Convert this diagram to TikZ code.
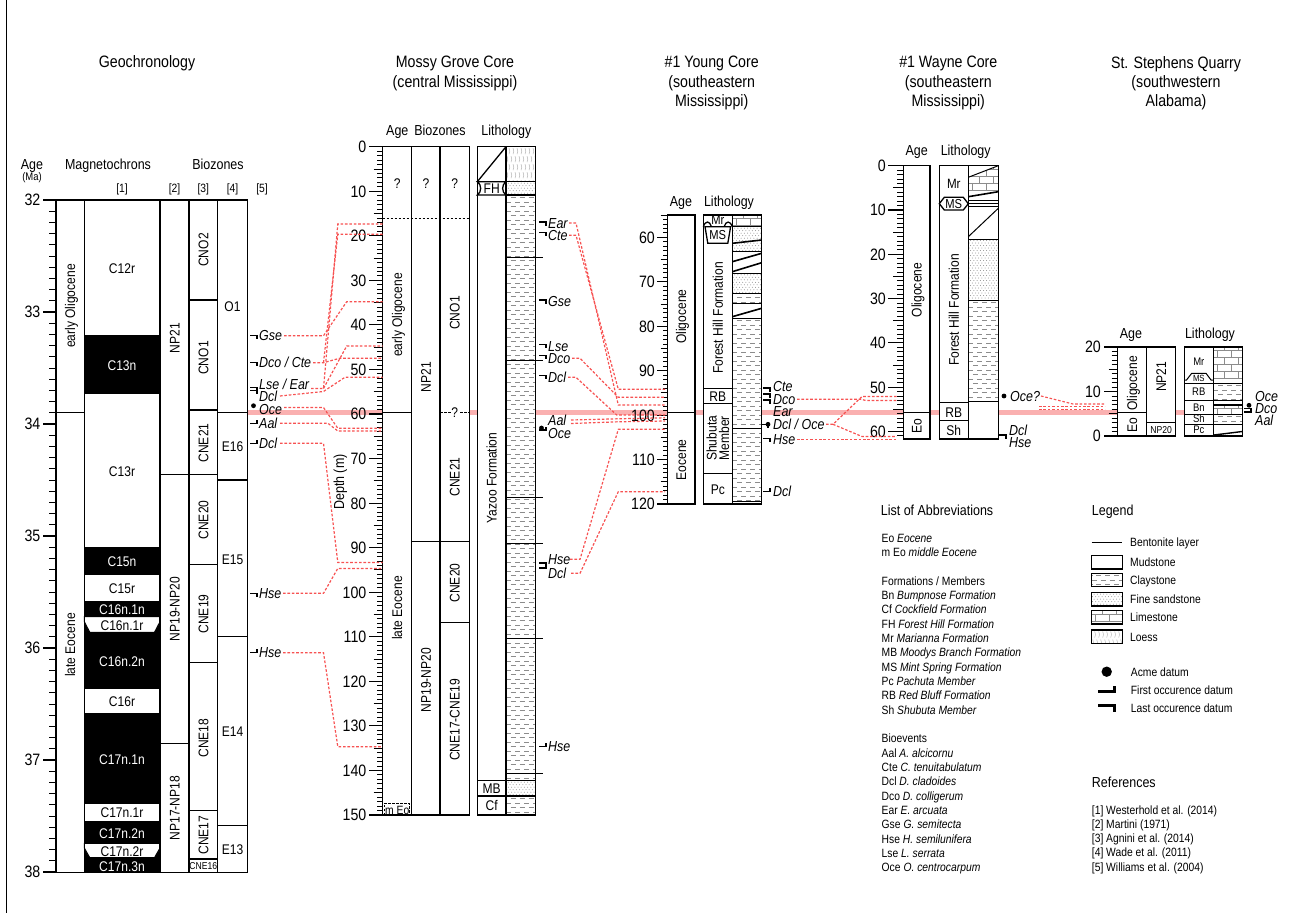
\documentclass[tikz,border=0pt]{standalone}
\usepackage{fontspec}
\setmainfont{Liberation Sans}[FakeStretch=0.86]
\definecolor{redl}{RGB}{247,82,82}
\definecolor{pinkb}{RGB}{250,176,176}
\definecolor{patg}{RGB}{140,140,140}
\definecolor{loeg}{RGB}{175,175,175}
\tikzset{
  ln/.style={line width=1.3pt},
  col/.style={draw=black, line width=1.3pt, fill=white},
  tk/.style={line width=1.1pt},
  tkm/.style={line width=0.9pt},
  rl/.style={draw=redl, line width=1.2pt, dash pattern=on 2.6pt off 1.8pt},
  mk/.style={line width=1.2pt},
  claydash/.style={draw=patg, line width=0.6pt, dash pattern=on 5pt off 4pt},
  limeln/.style={draw=patg, line width=0.6pt},
  loessln/.style={draw=loeg, line width=0.45pt},
  ttl/.style={font=\fontsize{16.5}{19}\selectfont, inner sep=0pt, text height=11.8pt, text depth=0pt},
  hdr/.style={font=\fontsize{14.5}{17}\selectfont, inner sep=0pt, text height=10.4pt, text depth=0pt},
  num/.style={font=\fontsize{16.5}{19}\selectfont, inner sep=0pt, text height=11.8pt, text depth=0pt, anchor=east},
  lab/.style={font=\fontsize{14}{16}\selectfont, inner sep=0pt, text height=10pt, text depth=0pt},
  slab/.style={font=\fontsize{12}{14}\selectfont, inner sep=0pt, text height=8.6pt, text depth=0pt},
  tlab/.style={font=\fontsize{10}{12}\selectfont, inner sep=0pt, text height=7.2pt, text depth=0pt},
  wlab/.style={lab, text=white},
  vlab/.style={lab, rotate=90},
  bio/.style={font=\fontsize{14.5}{17}\selectfont\itshape, inner sep=0pt, text height=10.4pt, text depth=0pt, anchor=west},
  sm/.style={font=\fontsize{12}{14}\selectfont, inner sep=0pt, text height=8.6pt, text depth=0pt, anchor=west},
}
\newcommand\LOm[2]{\draw[mk] (#1,#2) -- ++(7,0) -- ++(0,3.5);}
\newcommand\FOm[2]{\draw[mk] (#1,#2) -- ++(7,0) -- ++(0,-3.5);}
\newcommand\ACm[2]{\fill (#1,#2) circle[radius=2.4];}
\newcommand\clayfill[4]{%
  \begin{scope}
    \clip (#1,#2) rectangle (#3,#4);
    \pgfmathsetmacro\cya{#2+2.3}%
    \pgfmathsetmacro\cyb{#2+6.8}%
    \foreach \yy [count=\ci] in {\cya,\cyb,...,#4}{%
      \pgfmathsetmacro\ph{mod(\ci,2)*4.5}%
      \draw[claydash, dash phase=\ph pt] (#1,\yy) -- (#3,\yy);
    }%
  \end{scope}}
\newcommand\sandfill[4]{%
  \begin{scope}
    \clip (#1,#2) rectangle (#3,#4);
    \pgfmathsetmacro\sya{#2+1.5}%
    \pgfmathsetmacro\syb{#2+4.0}%
    \foreach \yy [count=\si] in {\sya,\syb,...,#4}{%
      \pgfmathsetmacro\sxa{#1+0.8+mod(\si,2)*1.6}%
      \pgfmathsetmacro\sxb{\sxa+3.2}%
      \foreach \xx in {\sxa,\sxb,...,#3}{\fill[patg] (\xx,\yy) circle[radius=0.5];}
    }%
  \end{scope}}
\newcommand\limefill[4]{%
  \begin{scope}
    \clip (#1,#2) rectangle (#3,#4);
    \pgfmathsetmacro\lya{#2+3.5}%
    \pgfmathsetmacro\lyb{#2+10.5}%
    \foreach \yy [count=\li] in {\lya,\lyb,...,#4}{%
      \draw[limeln] (#1,\yy) -- (#3,\yy);
      \pgfmathsetmacro\lxa{#1+4+mod(\li,2)*7}%
      \pgfmathsetmacro\lxb{\lxa+14}%
      \foreach \xx in {\lxa,\lxb,...,#3}{\draw[limeln] (\xx,\yy) -- (\xx,\yy-7);}
    }%
  \end{scope}}
\newcommand\loessfill[4]{%
  \begin{scope}
    \clip (#1,#2) rectangle (#3,#4);
    \pgfmathsetmacro\qya{#2+1.5}%
    \pgfmathsetmacro\qyb{#2+9.5}%
    \foreach \yy [count=\qi] in {\qya,\qyb,...,#4}{%
      \pgfmathsetmacro\qxa{#1+1+mod(\qi,2)*2}%
      \pgfmathsetmacro\qxb{\qxa+4}%
      \foreach \xx in {\qxa,\qxb,...,#3}{\draw[loessln] (\xx,\yy) -- (\xx+0.8,\yy+3) -- (\xx,\yy+6);}
    }%
  \end{scope}}
\begin{document}
\begin{tikzpicture}[x=1pt,y=-1pt]
\useasboundingbox (0,0) rectangle (1290,913);
\draw[line width=1pt] (6.5,0) -- (6.5,913);
% Eocene-Oligocene boundary
\draw[pinkb, line width=4.2pt] (247.3,412.5) -- (1184,412.5);

%================ GEOCHRONOLOGY ================
\node[ttl] (tG) at (147,62) {Geochronology};
\node[hdr] (hAge) at (32,164) {Age};
\node[tlab, font=\fontsize{11}{13}\selectfont] (hMa) at (32,177) {(Ma)};
\node[hdr] (hMag) at (108,164) {Magnetochrons};
\node[hdr] (hBio) at (218,164) {Biozones};
\node[slab] (r1) at (122,188) {[1]};
\node[slab] (r2) at (174.5,188) {[2]};
\node[slab] (r3) at (203.3,188) {[3]};
\node[slab] (r4) at (232.5,188) {[4]};
\node[slab] (r5) at (262,188) {[5]};
% ticks
\foreach \i in {0,...,60}{\pgfmathsetmacro\yy{200+\i*11.2}\draw[tkm] (49,\yy) -- (56,\yy);}
\foreach \a [count=\k from 0] in {32,...,38}{\pgfmathsetmacro\yy{200+\k*112}\draw[tk] (43,\yy) -- (56,\yy); \node[num] (ga\a) at (40.5,\yy) {\a};}
% columns
\draw[col] (56,200) rectangle (84.3,872.7);
\draw[col] (84.3,200) rectangle (160,872.7);
\draw[col] (160,200) rectangle (189,872.7);
\draw[col] (189,200) rectangle (217.7,872.7);
\draw[col] (217.7,200) rectangle (247.3,872.7);
\draw[ln] (56,412.8) -- (84.3,412.8);
\node[vlab] (eo1) at (70,306) {early Oligocene};
\node[vlab] (eo2) at (70,645) {late Eocene};
% magnetochrons
\draw[fill=black, line width=1pt] (84.3,335.7) rectangle (160,393.3);
\draw[fill=black, line width=1pt] (84.3,547.3) rectangle (160,574.3);
\draw[fill=black, line width=1pt] (84.3,601) rectangle (160,688.3);
\draw[fill=black, line width=1pt] (84.3,713.3) rectangle (160,803.3);
\draw[fill=black, line width=1pt] (84.3,821) rectangle (160,872.7);
\draw[col, line width=1pt] (84.3,616.7) -- (160,616.7) -- (160,621.7) -- (154.5,632.3) -- (89.8,632.3) -- (84.3,621.7) -- cycle;
\draw[col, line width=1pt] (84.3,843.3) -- (160,843.3) -- (160,848) -- (154.5,857.7) -- (89.8,857.7) -- (84.3,848) -- cycle;
\draw[ln] (84.3,200) rectangle (160,872.7);
\node[lab] (m1) at (122,268) {C12r};
\node[wlab] (m2) at (122,365) {C13n};
\node[lab] (m3) at (122,471) {C13r};
\node[wlab] (m4) at (122,561) {C15n};
\node[lab] (m5) at (122,588) {C15r};
\node[wlab] (m6) at (122,609) {C16n.1n};
\node[lab] (m7) at (122,625) {C16n.1r};
\node[wlab] (m8) at (122,661) {C16n.2n};
\node[lab] (m9) at (122,701) {C16r};
\node[wlab] (m10) at (122,759) {C17n.1n};
\node[lab] (m11) at (122,812.5) {C17n.1r};
\node[wlab] (m12) at (122,833) {C17n.2n};
\node[lab] (m13) at (122,851.5) {C17n.2r};
\node[wlab] (m14) at (122,866) {C17n.3n};
% [2]
\draw[ln] (160,474.3) -- (189,474.3);
\draw[ln] (160,743.3) -- (189,743.3);
\node[vlab] (np1) at (174.5,338) {NP21};
\node[vlab] (np2) at (174.5,609) {NP19-NP20};
\node[vlab] (np3) at (174.5,808) {NP17-NP18};
% [3]
\foreach \yy in {300,410,474.3,564.3,662.7,810.7,859}{\draw[ln] (189,\yy) -- (217.7,\yy);}
\node[vlab] (cn1) at (203.3,250) {CNO2};
\node[vlab] (cn2) at (203.3,358) {CNO1};
\node[vlab] (cn3) at (203.3,443) {CNE21};
\node[vlab] (cn4) at (203.3,520) {CNE20};
\node[vlab] (cn5) at (203.3,614) {CNE19};
\node[vlab] (cn6) at (203.3,738) {CNE18};
\node[vlab] (cn7) at (203.3,835) {CNE17};
\node[tlab] (cn8) at (203.3,866) {CNE16};
% [4]
\foreach \yy in {412.7,480,636.7,825.7}{\draw[ln] (217.7,\yy) -- (247.3,\yy);}
\node[lab] (w1) at (232.5,306.7) {O1};
\node[lab] (w2) at (232.5,446.7) {E16};
\node[lab] (w3) at (232.5,559.3) {E15};
\node[lab] (w4) at (232.5,731.7) {E14};
\node[lab] (w5) at (232.5,849.3) {E13};
% [5] bioevents
\LOm{250}{335.7} \node[bio] (g1) at (259,335.7) {Gse};
\LOm{250}{362.7} \node[bio] (g2) at (259,362.7) {Dco / Cte};
\LOm{250}{387.3} \node[bio] (g3) at (259,384.2) {Lse / Ear};
\LOm{250}{390.8} \node[bio] (g4) at (259,396.3) {Dcl};
\ACm{253.5}{405.7} \node[bio] (g5) at (259,409.5) {Oce};
\FOm{250}{423.3} \node[bio] (g6) at (259,423.3) {Aal};
\FOm{250}{443.3} \node[bio] (g7) at (259,443.3) {Dcl};
\LOm{250}{593.3} \node[bio] (g8) at (259,593.3) {Hse};
\FOm{250}{652.7} \node[bio] (g9) at (259,652.7) {Hse};

%================ MOSSY GROVE ================
\node[ttl] (tM1) at (455,61.7) {Mossy Grove Core};
\node[ttl] (tM2) at (455,81.7) {(central Mississippi)};
\node[hdr] (hMa1) at (397.3,130.7) {Age};
\node[hdr] (hMb1) at (440,130.7) {Biozones};
\node[hdr] (hMl1) at (506.3,130.7) {Lithology};
\node[hdr, rotate=90] (dep) at (339,482) {Depth (m)};
\foreach \d in {0,...,150}{%
  \pgfmathsetmacro\yy{146.7+4.455*\d}%
  \pgfmathtruncatemacro\mt{mod(\d,10)}%
  \pgfmathtruncatemacro\mf{mod(\d,5)}%
  \ifnum\mt=0 \def\xl{369}\else\ifnum\mf=0 \def\xl{373.5}\else\def\xl{377}\fi\fi
  \draw[tkm] (\xl,\yy) -- (382.7,\yy);}
\foreach \d in {0,10,...,150}{\pgfmathsetmacro\yy{146.7+4.455*\d}\draw[tk] (369,\yy) -- (382.7,\yy); \node[num] (mgn\d) at (366.5,\yy) {\d};}
\draw[col] (382.7,146.7) rectangle (411.7,815);
\draw[col] (411.7,146.7) rectangle (440,815);
\draw[col] (440,146.7) rectangle (469.3,815);
\draw[col] (477.3,146.7) rectangle (506,815);
\draw[col] (506,146.7) rectangle (535.7,815);
% age
\draw[line width=1pt, dash pattern=on 2.5pt off 1.5pt] (382.7,218.3) -- (469.3,218.3);
\draw[ln] (382.7,412.3) -- (411.7,412.3);
\node[lab] (q1) at (397.2,183.3) {?};
\node[lab] (q2) at (425.9,183.3) {?};
\node[lab] (q3) at (454.7,183.3) {?};
\node[vlab] (mga1) at (397.2,315) {early Oligocene};
\node[vlab] (mga2) at (397.2,608) {late Eocene};
\draw[line width=1pt, dash pattern=on 2.5pt off 1.5pt] (384,815) -- (384,803.3) -- (409.5,803.3) -- (409.5,815);
\node[slab] (meo) at (397.2,810) {m Eo};
% biozones
\draw[ln] (411.7,541.7) -- (469.3,541.7);
\draw[ln] (440,622.3) -- (469.3,622.3);
\draw[line width=1pt, dash pattern=on 2.5pt off 1.5pt] (440,412.3) -- (469.3,412.3);
\node[lab, fill=white, inner sep=0.6pt] (q4) at (454.7,412.3) {?};
\node[vlab] (mgn1) at (425.9,377) {NP21};
\node[vlab] (mgn2) at (425.9,680) {NP19-NP20};
\node[vlab] (mgc1) at (454.7,313) {CNO1};
\node[vlab] (mgc2) at (454.7,477) {CNE21};
\node[vlab] (mgc3) at (454.7,583) {CNE20};
\node[vlab] (mgc4) at (454.7,720) {CNE17-CNE19};
% lithology formations
\draw[ln] (477.3,181.7) -- (506,146.7);
\draw[ln, fill=white] (477.3,181.7) -- (506,181.7) .. controls (501.5,184.5) and (501.5,192.2) .. (506,195) -- (477.3,195) .. controls (481.8,192.2) and (481.8,184.5) .. (477.3,181.7) -- cycle;
\node[lab] (fh) at (491.7,188.4) {FH};
\draw[ln] (477.3,780.7) -- (506,780.7);
\draw[ln] (477.3,796) -- (506,796);
\node[vlab] (yaz) at (491.7,478) {Yazoo Formation};
\node[lab] (mb) at (491.7,788.4) {MB};
\node[lab] (cf) at (491.7,805.5) {Cf};
% lithology pattern
\loessfill{506}{146.7}{535.7}{181.7}
\sandfill{506}{181.7}{535.7}{195}
\clayfill{506}{195}{535.7}{780.7}
\sandfill{506}{780.7}{535.7}{796}
\clayfill{506}{796}{535.7}{815}
\foreach \yy in {181.7,195,780.7,796}{\draw[ln] (506,\yy) -- (535.7,\yy);}
\foreach \yy in {257.3,360.7,497.7,543.3,638.3,773.3}{\draw[ln] (506,\yy) -- (542.7,\yy);}
\draw[ln] (506,146.7) rectangle (535.7,815);
% bioevents
\LOm{539}{222} \node[bio] (mb1) at (548,223) {Ear};
\LOm{539}{232.8} \node[bio] (mb2) at (548,235.2) {Cte};
\LOm{539}{300} \node[bio] (mb3) at (548,301.7) {Gse};
\LOm{539}{344.5} \node[bio] (mb4) at (548,346) {Lse};
\LOm{539}{355.5} \node[bio] (mb5) at (548,358.3) {Dco};
\LOm{539}{375.5} \node[bio] (mb6) at (548,377.3) {Dcl};
\ACm{541.5}{428} \FOm{539}{430} \node[bio] (mb7) at (548,420) {Aal}; \node[bio] (mb8) at (548,433.3) {Oce};
\LOm{539}{563} \FOm{539}{568} \node[bio] (mb9) at (548,559.3) {Hse}; \node[bio] (mb10) at (548,573.3) {Dcl};
\FOm{539}{746.7} \node[bio] (mb11) at (548,746.7) {Hse};

%================ YOUNG ================
\node[ttl] (tY1) at (711.7,62) {\#1 Young Core};
\node[ttl] (tY2) at (711.7,81.7) {(southeastern};
\node[ttl] (tY3) at (711.7,100.5) {Mississippi)};
\node[hdr] (hYa) at (681,201.7) {Age};
\node[hdr] (hYl) at (729,201.7) {Lithology};
\foreach \d in {55,...,120}{%
  \pgfmathsetmacro\yy{237.3+4.445*(\d-60)}%
  \pgfmathtruncatemacro\mt{mod(\d,10)}%
  \pgfmathtruncatemacro\mf{mod(\d,5)}%
  \ifnum\mt=0 \def\xl{657}\else\ifnum\mf=0 \def\xl{660.5}\else\def\xl{663}\fi\fi
  \draw[tkm] (\xl,\yy) -- (667.3,\yy);}
\foreach \d in {60,70,...,120}{\pgfmathsetmacro\yy{237.3+4.445*(\d-60)}\draw[tk] (657,\yy) -- (667.3,\yy); \node[num] (yn\d) at (655,\yy) {\d};}
\draw[col] (667.3,215) rectangle (695,504);
\draw[col] (703.3,215) rectangle (732.3,504);
\draw[col] (732.3,215) rectangle (761.7,504);
\draw[ln] (667.3,412.7) -- (695,412.7);
\node[vlab] (ya1) at (681,316.7) {Oligocene};
\node[vlab] (ya2) at (681,460) {Eocene};
% formations
\draw[ln] (703.3,226.7) .. controls (705.5,220.5) and (709.5,220.5) .. (711.5,226.7) -- (724.1,226.7) .. controls (726.1,220.5) and (730.1,220.5) .. (732.3,226.7);
\draw[ln, fill=white] (705,226.7) -- (730.6,226.7) -- (727.8,243.3) -- (707.8,243.3) -- cycle;
\node[slab, font=\fontsize{13}{15}\selectfont] (ymr) at (717.8,220.3) {Mr};
\node[slab, font=\fontsize{13}{15}\selectfont] (yms) at (717.8,235.3) {MS};
\node[vlab] (yfh) at (717.8,318) {Forest Hill Formation};
\draw[ln] (703.3,388.3) -- (732.3,388.3);
\draw[ln] (703.3,403.3) -- (732.3,403.3);
\draw[ln] (703.3,473.3) -- (732.3,473.3);
\node[lab] (yrb) at (717.8,396) {RB};
\node[rotate=90, align=center, inner sep=0pt, font=\fontsize{14}{12.5}\selectfont] (ysh) at (717.8,438.3) {Shubuta\\Member};
\node[lab] (ypc) at (717.8,489) {Pc};
% pattern
\limefill{732.3}{215}{761.7}{226.7}
\sandfill{732.3}{226.7}{761.7}{251.7}
\sandfill{732.3}{273.3}{761.7}{293.3}
\clayfill{732.3}{295}{761.7}{303.3}
\clayfill{732.3}{318.3}{761.7}{501.7}
\foreach \yy in {226.7,251.7,273.3,293.3,303.3,318.3,501.7}{\draw[line width=1pt] (732.3,\yy) -- (761.7,\yy);}
\draw[line width=1.6pt] (732.3,428.3) -- (761.7,428.3);
\draw[line width=1.6pt] (732.3,243.3) -- (761.7,240);
\draw[line width=1.6pt] (732.3,261.7) -- (761.7,253.3);
\draw[line width=1.6pt] (732.3,271.7) -- (761.7,262.7);
\draw[line width=1.6pt] (732.3,316.7) -- (761.7,308.3);
\draw[ln] (732.3,215) rectangle (761.7,504);
% bioevents
\LOm{763}{388} \LOm{763}{394} \LOm{763}{400}
\node[bio] (yb1) at (773,386.5) {Cte};
\node[bio] (yb2) at (773,399) {Dco};
\node[bio] (yb3) at (773,411.5) {Ear};
\LOm{761}{424.3} \ACm{768}{424.3} \node[bio] (yb4) at (773,424.3) {Dcl / Oce};
\LOm{763}{438.3} \node[bio] (yb5) at (773,439.5) {Hse};
\FOm{763}{491.7} \node[bio] (yb6) at (773,491.7) {Dcl};

%================ WAYNE ================
\node[ttl] (tW1) at (948.3,61.7) {\#1 Wayne Core};
\node[ttl] (tW2) at (948.3,81.7) {(southeastern};
\node[ttl] (tW3) at (948.3,100.5) {Mississippi)};
\node[hdr] (hWa) at (916.7,150.7) {Age};
\node[hdr] (hWl) at (965.7,150.7) {Lithology};
\foreach \d in {0,...,61}{%
  \pgfmathsetmacro\yy{165.7+4.43*\d}%
  \pgfmathtruncatemacro\mt{mod(\d,10)}%
  \pgfmathtruncatemacro\mf{mod(\d,5)}%
  \ifnum\mt=0 \def\xl{888}\else\ifnum\mf=0 \def\xl{893}\else\def\xl{897}\fi\fi
  \draw[tkm] (\xl,\yy) -- (903.3,\yy);}
\foreach \d in {0,10,...,60}{\pgfmathsetmacro\yy{165.7+4.43*\d}\draw[tk] (888,\yy) -- (903.3,\yy); \node[num] (wn\d) at (886,\yy) {\d};}
\draw[col] (903.3,165.7) rectangle (930,439);
\draw[col] (939.3,165.7) rectangle (968.3,439);
\draw[col] (968.3,165.7) rectangle (998.3,439);
\draw[ln] (903.3,412.5) -- (930,412.5);
\node[vlab] (wa1) at (916.7,290) {Oligocene};
\node[vlab] (wa2) at (916.7,426) {Eo};
% formations
\node[lab, font=\fontsize{13.5}{15}\selectfont] (wmr) at (953.8,183.3) {Mr};
\draw[ln, fill=white] (944.3,197.3) -- (963.3,197.3) -- (968.3,203.7) -- (963.3,210) -- (944.3,210) -- (939.3,203.7) -- cycle;
\node[slab, font=\fontsize{13}{15}\selectfont] (wms) at (953.8,203.7) {MS};
\node[vlab] (wfh) at (953.8,310) {Forest Hill Formation};
\draw[ln] (939.3,402.7) -- (968.3,402.7);
\draw[ln] (939.3,420.7) -- (968.3,420.7);
\node[lab] (wrb) at (953.8,412) {RB};
\node[lab] (wsh) at (953.8,430) {Sh};
% pattern
\begin{scope}
  \clip (968.3,177.3) -- (998.3,165.7) -- (998.3,191.7) -- (968.3,196.7) -- cycle;
  \limefill{968.3}{165.7}{998.3}{196.7}
\end{scope}
\sandfill{968.3}{239}{998.3}{300}
\clayfill{968.3}{300}{998.3}{401.7}
\draw[line width=1pt] (968.3,177.3) -- (998.3,165.7);
\draw[line width=1.6pt] (968.3,196.7) -- (998.3,191.7);
\foreach \yy in {200,203.3,206.7}{\draw[line width=0.9pt] (968.3,\yy) -- (998.3,\yy);}
\draw[line width=1pt] (968.3,236.7) -- (998.3,208.3);
\foreach \yy in {239,300,401.7}{\draw[line width=1pt] (968.3,\yy) -- (998.3,\yy);}
\draw[ln] (968.3,165.7) rectangle (998.3,439);
% bioevents
\ACm{1004}{396} \node[bio] (wb1) at (1010,396) {Oce?};
\LOm{999}{435} \node[bio] (wb2) at (1009,430) {Dcl}; \node[bio] (wb3) at (1009,442.5) {Hse};

%================ ST. STEPHENS ================
\node[ttl] (tS1) at (1176,62.7) {St. Stephens Quarry};
\node[ttl] (tS2) at (1176,81.7) {(southwestern};
\node[ttl] (tS3) at (1176,100.5) {Alabama)};
\node[hdr] (hSa) at (1131,333.3) {Age};
\node[hdr] (hSl) at (1210,333.3) {Lithology};
\foreach \d in {0,...,20}{%
  \pgfmathsetmacro\yy{436-4.45*\d}%
  \pgfmathtruncatemacro\mt{mod(\d,10)}%
  \pgfmathtruncatemacro\mf{mod(\d,5)}%
  \ifnum\mt=0 \def\xl{1104}\else\ifnum\mf=0 \def\xl{1108.5}\else\def\xl{1111.5}\fi\fi
  \draw[tkm] (\xl,\yy) -- (1117.7,\yy);}
\foreach \d in {0,10,20}{\pgfmathsetmacro\yy{436-4.45*\d}\draw[tk] (1104,\yy) -- (1117.7,\yy); \node[num] (sn\d) at (1101,\yy) {\d};}
\draw[col] (1117.7,347) rectangle (1146.7,436);
\draw[col] (1146.7,347) rectangle (1175.7,436);
\draw[col] (1184.3,347) rectangle (1213.3,436);
\draw[col] (1213.3,347) rectangle (1242.3,436);
\draw[ln] (1117.7,412.7) -- (1146.7,412.7);
\draw[ln] (1146.7,422.7) -- (1175.7,422.7);
\node[vlab] (sa1) at (1132.2,383.3) {Oligocene};
\node[vlab] (sa2) at (1132.2,425) {Eo};
\node[vlab] (snp1) at (1161.2,376.7) {NP21};
\node[tlab] (snp2) at (1161.2,429.6) {NP20};
% formations
\draw[line width=1pt] (1184.3,380) -- (1186.5,380) -- (1191.7,373.3) -- (1206,373.3) -- (1211,380) -- (1213.3,380);
\foreach \yy in {383.3,400.7,414,424.3}{\draw[line width=1pt] (1184.3,\yy) -- (1213.3,\yy);}
\node[tlab, font=\fontsize{11}{13}\selectfont] (smr) at (1198.8,361.7) {Mr};
\node[tlab, font=\fontsize{9}{11}\selectfont, text height=6.5pt] (sms) at (1198.8,378.2) {MS};
\node[tlab, font=\fontsize{11}{13}\selectfont] (srb) at (1198.8,392) {RB};
\node[tlab, font=\fontsize{11}{13}\selectfont] (sbn) at (1198.8,407.4) {Bn};
\node[tlab, font=\fontsize{11}{13}\selectfont] (ssh) at (1198.8,419.2) {Sh};
\node[tlab, font=\fontsize{11}{13}\selectfont] (spc) at (1198.8,430.2) {Pc};
% pattern
\limefill{1213.3}{347}{1242.3}{383.3}
\clayfill{1213.3}{383.3}{1242.3}{400.7}
\limefill{1213.3}{405}{1242.3}{414}
\clayfill{1213.3}{414}{1242.3}{424.3}
\foreach \yy in {383.3,400.7,414,424.3}{\draw[line width=1pt] (1213.3,\yy) -- (1242.3,\yy);}
\draw[line width=1.6pt] (1213.3,405) -- (1242.3,405);
\draw[line width=1.4pt] (1214,435) -- (1242.3,431.5);
\draw[ln] (1213.3,347) rectangle (1242.3,436);
% bioevents
\ACm{1249}{405.3} \LOm{1244}{408.5} \FOm{1244}{412}
\node[bio] (sb1) at (1255,396) {Oce};
\node[bio] (sb2) at (1255,408.3) {Dco};
\node[bio] (sb3) at (1255,420.7) {Aal};

%================ CORRELATION LINES ================
% Geochronology -> Mossy Grove
\draw[rl] (284,335.7) -- (323.5,335.7) -- (346.7,301.7) -- (382.7,301.7);
\draw[rl] (313,362.7) -- (323.5,362.7) -- (339.5,358.3) -- (382.7,358.3);
\draw[rl] (323.5,362.7) -- (337.8,234.3) -- (382.7,234.3);
\draw[rl] (311,388.5) -- (323.5,388.5) -- (337.8,224) -- (382.7,224);
\draw[rl] (323.5,388.5) -- (346.7,346) -- (382.7,346);
\draw[rl] (280,396) -- (323.5,391.5) -- (344.9,377.3) -- (382.7,377.3);
\draw[rl] (284,407.5) -- (323.5,407.5) -- (337.8,428.3) -- (382.7,428.3);
\draw[rl] (280,423.3) -- (328,423.3) -- (337.8,431) -- (382.7,431);
\draw[rl] (280,443.3) -- (323.5,443.3) -- (337.8,562.5) -- (382.7,562.5);
\draw[rl] (283,593.3) -- (323.5,593.3) -- (337.8,568.4) -- (382.7,568.4);
\draw[rl] (283,652.7) -- (323.5,652.7) -- (337.8,746.7) -- (382.7,746.7);
% Mossy Grove -> Young
\draw[rl] (569,223) -- (576,223) -- (618.3,405) -- (665,405);
\draw[rl] (569,235.2) -- (576,235.2) -- (618.3,389.3) -- (665,389.3);
\draw[rl] (572,358.3) -- (580,358.3) -- (618.3,397.3) -- (665,397.3);
\draw[rl] (568,377.3) -- (576,377.3) -- (616.7,415) -- (665,415);
\draw[rl] (571,420) -- (618,418.8) -- (665,417.8);
\draw[rl] (571,423.5) -- (618,421.8) -- (665,421);
\draw[rl] (570,559.3) -- (580,559.3) -- (618.3,429.3) -- (665,429.3);
\draw[rl] (571,573.3) -- (580,573.3) -- (618.3,491.7) -- (665,491.7);
% Young -> Wayne
\draw[rl] (797,399.3) -- (861,399.3) -- (866,400.5) -- (896.7,400.5);
\draw[rl] (826,424.3) -- (833,424.3) -- (862,396.5) -- (896.7,396.5);
\draw[rl] (833,424.3) -- (862,436.5) -- (896.7,436.5);
\draw[rl] (797,439.3) -- (896.7,439.3);
% Wayne -> St. Stephens
\draw[rl] (1041,396) -- (1073,404) -- (1105,404);
\draw[rl] (1039,406.7) -- (1105,406.7);
\draw[rl] (1039,409.5) -- (1105,409.5);

%================ ABBREVIATIONS ================
\node[hdr, anchor=west] (abT) at (880.7,510.7) {List of Abbreviations};
\node[sm] (ab1) at (881.5,537.7) {Eo \textit{Eocene}};
\node[sm] (ab2) at (881.5,552) {m Eo \textit{middle Eocene}};
\node[sm] (ab3) at (881.5,580.7) {Formations / Members};
\node[sm] (ab4) at (881.5,595) {Bn \textit{Bumpnose Formation}};
\node[sm] (ab5) at (881.5,609.3) {Cf \textit{Cockfield Formation}};
\node[sm] (ab6) at (881.5,623.7) {FH \textit{Forest Hill Formation}};
\node[sm] (ab7) at (881.5,638) {Mr \textit{Marianna Formation}};
\node[sm] (ab8) at (881.5,652.3) {MB \textit{Moodys Branch Formation}};
\node[sm] (ab9) at (881.5,666.7) {MS \textit{Mint Spring Formation}};
\node[sm] (ab10) at (881.5,681) {Pc \textit{Pachuta Member}};
\node[sm] (ab11) at (881.5,695.3) {RB \textit{Red Bluff Formation}};
\node[sm] (ab12) at (881.5,709.7) {Sh \textit{Shubuta Member}};
\node[sm] (ab13) at (881.5,738.3) {Bioevents};
\node[sm] (ab14) at (881.5,752.7) {Aal \textit{A. alcicornu}};
\node[sm] (ab15) at (881.5,767) {Cte \textit{C. tenuitabulatum}};
\node[sm] (ab16) at (881.5,781.3) {Dcl \textit{D. cladoides}};
\node[sm] (ab17) at (881.5,795.7) {Dco \textit{D. colligerum}};
\node[sm] (ab18) at (881.5,810) {Ear \textit{E. arcuata}};
\node[sm] (ab19) at (881.5,824.3) {Gse \textit{G. semitecta}};
\node[sm] (ab20) at (881.5,838.7) {Hse \textit{H. semilunifera}};
\node[sm] (ab21) at (881.5,853) {Lse \textit{L. serrata}};
\node[sm] (ab22) at (881.5,867.3) {Oce \textit{O. centrocarpum}};

%================ LEGEND ================
\node[hdr, anchor=west] (lgT) at (1091.7,510.7) {Legend};
\draw[line width=1.3pt] (1091.7,542.3) -- (1122.3,542.3);
\node[sm] (lg1) at (1130,542.3) {Bentonite layer};
\draw[line width=1.2pt, fill=white] (1091.7,555.7) rectangle (1122.3,569);
\node[sm] (lg2) at (1130,562.3) {Mudstone};
\clayfill{1091.7}{573.3}{1122.3}{586.7}
\draw[line width=1.2pt] (1091.7,573.3) rectangle (1122.3,586.7);
\node[sm] (lg3) at (1130,580) {Claystone};
\sandfill{1091.7}{592.7}{1122.3}{606}
\draw[line width=1.2pt] (1091.7,592.7) rectangle (1122.3,606);
\node[sm] (lg4) at (1130,599.3) {Fine sandstone};
\limefill{1091.7}{610.7}{1122.3}{624}
\draw[line width=1.2pt] (1091.7,610.7) rectangle (1122.3,624);
\node[sm] (lg5) at (1130,617.3) {Limestone};
\loessfill{1091.7}{630}{1122.3}{643.3}
\draw[line width=1.2pt] (1091.7,630) rectangle (1122.3,643.3);
\node[sm] (lg6) at (1130,636.7) {Loess};
\fill (1106.7,671.7) circle[radius=5.2];
\node[sm] (lg7) at (1130.7,671.7) {Acme datum};
\draw[line width=2.6pt] (1098,691.3) -- (1114.5,691.3) -- (1114.5,685.5);
\node[sm] (lg8) at (1130.7,690) {First occurence datum};
\draw[line width=2.6pt] (1098,705.5) -- (1114.5,705.5) -- (1114.5,711.5);
\node[sm] (lg9) at (1130.7,708.3) {Last occurence datum};
\node[hdr, anchor=west] (rfT) at (1091.7,782.7) {References};
\node[sm] (rf1) at (1091.7,810) {[1] Westerhold et al. (2014)};
\node[sm] (rf2) at (1091.7,824.3) {[2] Martini (1971)};
\node[sm] (rf3) at (1091.7,838.5) {[3] Agnini et al. (2014)};
\node[sm] (rf4) at (1091.7,852.5) {[4] Wade et al. (2011)};
\node[sm] (rf5) at (1091.7,866.7) {[5] Williams et al. (2004)};
\end{tikzpicture}
\end{document}
